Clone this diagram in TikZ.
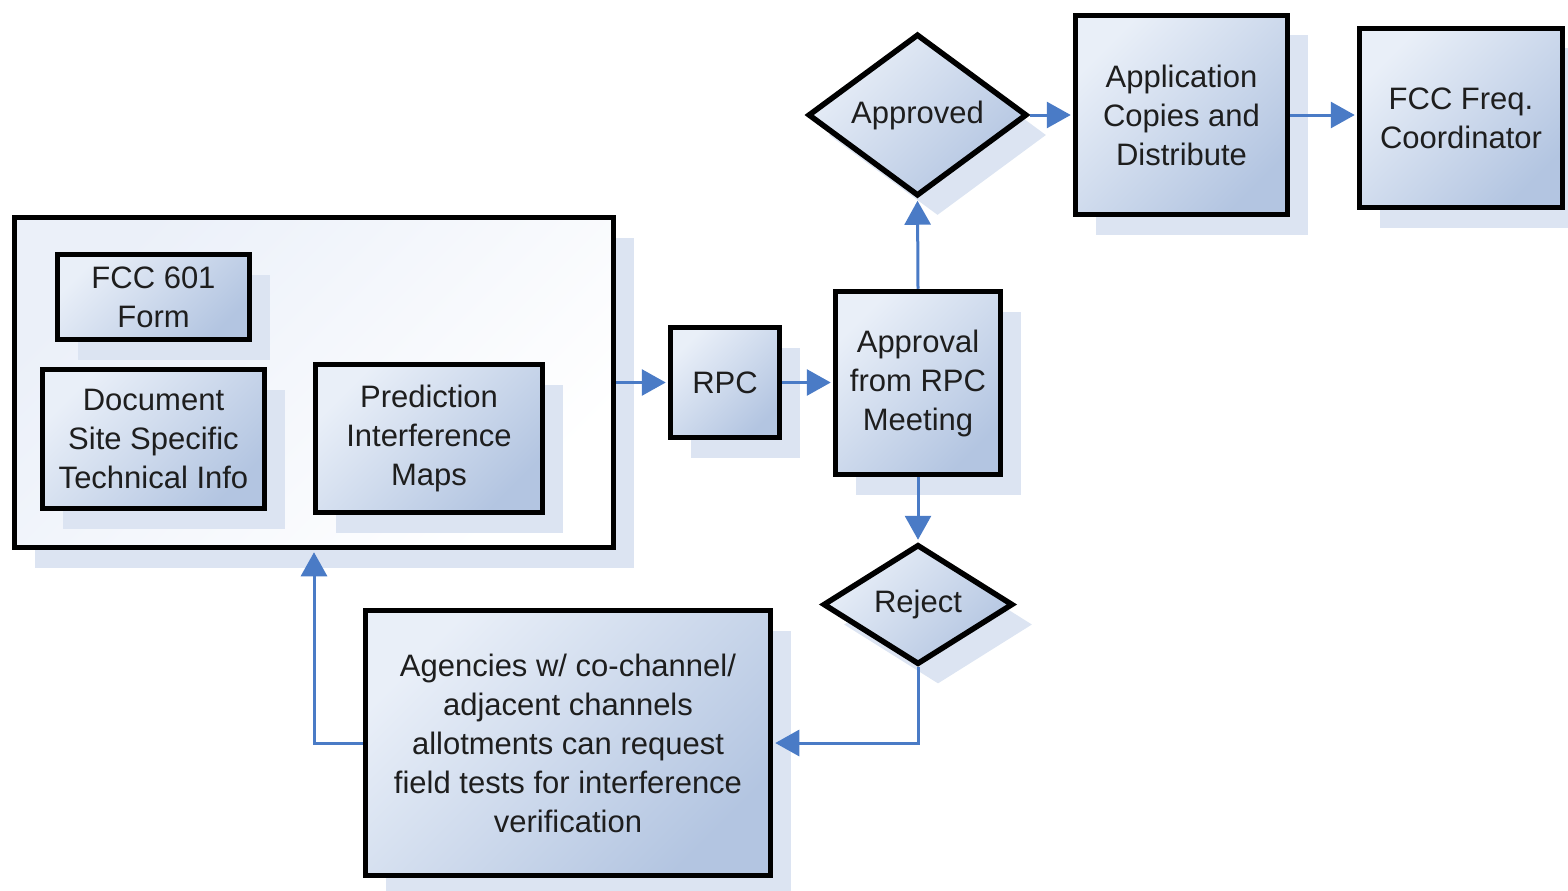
\documentclass[tikz,border=0pt]{standalone}
\usepackage{fontspec}
\setmainfont{Liberation Sans}
\usetikzlibrary{shapes.geometric,arrows.meta,shadows}
\definecolor{boxlight}{HTML}{E9EFF8}
\definecolor{boxdark}{HTML}{B3C5E1}
\definecolor{contlight}{HTML}{EBF0F9}
\definecolor{shadowblue}{HTML}{DCE4F2}
\definecolor{arrowblue}{HTML}{4A7BC6}
\definecolor{txt}{HTML}{1E1E1E}
\begin{document}
\begin{tikzpicture}[x=1pt,y=-1pt,
  base/.style={draw=black, line width=5.5pt, text=txt, align=center,
    font=\fontsize{31}{39}\selectfont, inner sep=0pt,
    drop shadow={shadow xshift=20pt, shadow yshift=-20pt, fill=shadowblue, opacity=1}},
  box/.style={base, rectangle, top color=boxlight, bottom color=boxdark, shading angle=45},
  dbox/.style={base, diamond, top color=boxlight, bottom color=boxdark, shading angle=45},
  cont/.style={base, rectangle, top color=contlight, bottom color=white, shading angle=45},
  flow/.style={draw=arrowblue, line width=3pt, shorten >=2pt,
    -{Triangle[length=24pt,width=26pt]}}
]
\useasboundingbox (0,0) rectangle (1568,891);

\node[cont, minimum width=599pt, minimum height=330pt] (cont) at (314,382.5) {};
\node[box, minimum width=192pt, minimum height=85pt] (f601) at (153.5,297) {FCC 601\\Form};
\node[box, minimum width=222pt, minimum height=139pt] (doc) at (153.5,439) {Document\\Site Specific\\Technical Info};
\node[box, minimum width=227pt, minimum height=148pt] (pred) at (429,438.5) {Prediction\\Interference\\Maps};
\node[box, minimum width=109pt, minimum height=110pt] (rpc) at (725,382.5) {RPC};
\node[box, minimum width=165pt, minimum height=183pt] (appr) at (918,383) {Approval\\from RPC\\Meeting};
\node[dbox, aspect=1.35, minimum width=219pt, minimum height=162pt] (ok) at (917.5,115) {Approved};
\node[box, minimum width=212pt, minimum height=199pt] (app) at (1181.5,115) {Application\\Copies and\\Distribute};
\node[box, minimum width=203pt, minimum height=179pt] (fcc) at (1461,118) {FCC Freq.\\Coordinator};
\node[dbox, aspect=1.58, minimum width=190pt, minimum height=120pt] (rej) at (918,604.5) {Reject};
\node[box, minimum width=405pt, minimum height=265pt] (ag) at (568,743) {Agencies w/ co-channel/\\adjacent channels\\allotments can request\\field tests for interference\\verification};

\draw[flow] (cont.east) -- (rpc.west);
\draw[flow] (rpc.east) -- (rpc.east -| appr.west);
\draw[flow] (appr.north) -- (ok.south);
\draw[flow] (ok.east) -- (ok.east -| app.west);
\draw[flow] (app.east) -- (app.east -| fcc.west);
\draw[flow] (appr.south) -- (rej.north);
\draw[flow] (rej.south) |- (ag.east);
\draw[flow] (ag.west) -| (cont.south);
\end{tikzpicture}
\end{document}
